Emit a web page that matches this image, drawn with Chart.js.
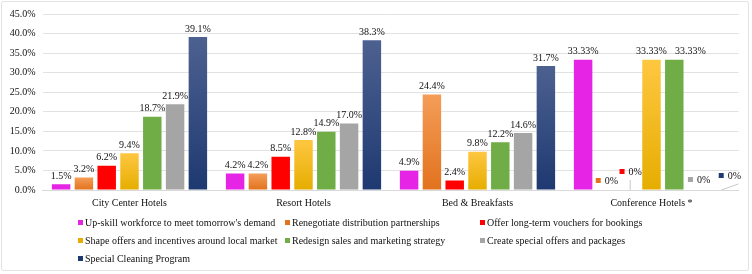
<!DOCTYPE html>
<html>
<head>
<meta charset="utf-8">
<script src="https://cdn.jsdelivr.net/npm/chart.js@4.4.0/dist/chart.umd.min.js"></script>
<style>
    html, body { margin: 0; padding: 0; background: #fff; }
    #wrap { position: relative; width: 752px; height: 274px; }
    #frame {
        position: absolute; left: 1px; top: 1px; width: 746px; height: 268px;
        border: 1px solid #e3e3e3; border-radius: 2px; pointer-events: none;
    }
    #legend {
        position: absolute; left: 78px; top: 214px;
        display: grid; grid-template-columns: 207px 195px 260px; row-gap: 0;
        font: 10px "Liberation Serif", "Times New Roman", serif; color: #111;
    }
    .item { height: 18px; line-height: 18px; white-space: nowrap; }
    .box { display: inline-block; width: 5px; height: 5px; margin-right: 2px; vertical-align: 1px; }
</style>
</head>
<body>
<div id="wrap">
    <canvas id="chart" width="752" height="274"></canvas>
    <div id="frame"></div>
    <div id="legend"></div>
</div>
<script>
// categories + series
const categories = ["City Center Hotels", "Resort Hotels", "Bed & Breakfasts", "Conference Hotels *"];
const seriesNames = [
    "Up-skill workforce to meet tomorrow's demand",
    "Renegotiate distribution partnerships",
    "Offer long-term vouchers for bookings",
    "Shape offers and incentives around local market",
    "Redesign sales and marketing strategy",
    "Create special offers and packages",
    "Special Cleaning Program"
];
const upskill     = [1.5, 4.2, 4.9, 33.33];
const renegotiate = [3.2, 4.2, 24.4, 0];
const vouchers    = [6.2, 8.5, 2.4, 0];
const shapeOffers = [9.4, 12.8, 9.8, 33.33];
const redesign    = [18.7, 14.9, 12.2, 33.33];
const specialPack = [21.9, 17.0, 14.6, 0];
const cleaning    = [39.1, 38.3, 31.7, 0];
const yTicks = [0, 5, 10, 15, 20, 25, 30, 35, 40, 45];

const seriesValues = [upskill, renegotiate, vouchers, shapeOffers, redesign, specialPack, cleaning];

// colours: [top, bottom] for gradient bars
const seriesColors = [
    ["#e524e5", "#e524e5"],
    ["#f49d58", "#e2721e"],
    ["#ff0000", "#ff0000"],
    ["#fec741", "#e6ad00"],
    ["#70ad47", "#70ad47"],
    ["#a5a5a5", "#a5a5a5"],
    ["#4d6190", "#1e3971"]
];

// where the 0% labels sit on the conference group (dx, dy from bar base) + leader line
const zeroLabelOffsets = {
    1: { dx: 1, dy: -9 },
    2: { dx: 2, dy: -18, line: [[1, -10], [1, 0]] },
    5: { dx: 2, dy: -10 },
    6: { dx: 10, dy: -14, line: [[1, 0], [18, -6]] }
};
// labels nudged sideways so they don't collide ("dataset:index" -> dx)
const labelShift = { "4:3": 16 };

const FONT = '"Liberation Serif", "Times New Roman", serif';

function barGradient(ctx, idx) {
    const chart = ctx.chart;
    const [top, bottom] = seriesColors[idx];
    if (top === bottom) return top;
    const y = chart.scales && chart.scales.y;
    if (!y || ctx.parsed == null) return top;
    const y0 = y.getPixelForValue(ctx.parsed.y);
    const y1 = y.getPixelForValue(0);
    if (!isFinite(y0) || !isFinite(y1) || y0 === y1) return top;
    const g = chart.ctx.createLinearGradient(0, y0, 0, y1);
    g.addColorStop(0, top);
    g.addColorStop(1, bottom);
    return g;
}

function fmtLabel(value, catIndex) {
    if (value === 0) return "0%";
    return catIndex === 3 ? value.toFixed(2) + "%" : value.toFixed(1) + "%";
}

const dataLabels = {
    id: "dataLabels",
    afterDatasetsDraw(chart) {
        const ctx = chart.ctx;
        const base = chart.scales.y.getPixelForValue(0);
        ctx.save();
        ctx.font = "10px " + FONT;
        ctx.fillStyle = "#111";
        chart.data.datasets.forEach((ds, di) => {
            const meta = chart.getDatasetMeta(di);
            meta.data.forEach((bar, i) => {
                const v = ds.data[i];
                if (v > 0) {
                    const shift = labelShift[di + ":" + i] || 0;
                    ctx.textAlign = "center";
                    ctx.textBaseline = "bottom";
                    ctx.fillStyle = "#111";
                    ctx.fillText(fmtLabel(v, i), bar.x + shift, bar.y - 3);
                } else {
                    const off = zeroLabelOffsets[di] || { dx: 0, dy: -9 };
                    const text = fmtLabel(v, i);
                    const tw = ctx.measureText(text).width;
                    const total = 5 + 4 + tw;
                    const left = bar.x + off.dx - total / 2;
                    const cy = base + off.dy;
                    if (off.line) {
                        ctx.strokeStyle = "#c8c8c8";
                        ctx.lineWidth = 1;
                        ctx.beginPath();
                        ctx.moveTo(bar.x + off.line[0][0] + 0.5, base + off.line[0][1]);
                        ctx.lineTo(bar.x + off.line[1][0] + 0.5, base + off.line[1][1]);
                        ctx.stroke();
                    }
                    ctx.fillStyle = seriesColors[di][1];
                    ctx.fillRect(left, cy - 3, 5, 5);
                    ctx.fillStyle = "#111";
                    ctx.textAlign = "left";
                    ctx.textBaseline = "middle";
                    ctx.fillText(text, left + 9, cy);
                }
            });
        });
        ctx.restore();
    }
};

const datasets = seriesNames.map((name, idx) => ({
    label: name,
    data: seriesValues[idx],
    backgroundColor: (c) => barGradient(c, idx),
    borderWidth: 0,
    categoryPercentage: 0.917,
    barPercentage: 0.81
}));

new Chart(document.getElementById("chart"), {
    type: "bar",
    data: { labels: categories, datasets: datasets },
    options: {
        responsive: false,
        animation: false,
        layout: { padding: { left: 0, top: 14, right: 13.5, bottom: 60 } },
        plugins: {
            legend: { display: false },
            tooltip: { enabled: false }
        },
        scales: {
            x: {
                grid: { display: false, drawTicks: false },
                border: { color: "#d9d9d9" },
                ticks: { color: "#111", padding: 7, font: { family: FONT, size: 10 } },
                afterFit: (s) => { s.height = 24; }
            },
            y: {
                min: 0,
                max: 45,
                afterBuildTicks: (s) => { s.ticks = yTicks.map(v => ({ value: v })); },
                grid: { color: "#e2e2e2", drawTicks: false },
                border: { display: false },
                ticks: {
                    color: "#111",
                    padding: 7,
                    font: { family: FONT, size: 10 },
                    callback: (v) => v.toFixed(1) + "%"
                },
                afterFit: (s) => { s.width = 42.5; }
            }
        }
    },
    plugins: [dataLabels]
});

// legend in three columns
const legend = document.getElementById("legend");
seriesNames.forEach((name, idx) => {
    const item = document.createElement("div");
    item.className = "item";
    const box = document.createElement("span");
    box.className = "box";
    box.style.background = seriesColors[idx][1];
    item.appendChild(box);
    item.appendChild(document.createTextNode(name));
    legend.appendChild(item);
});
</script>
</body>
</html>
